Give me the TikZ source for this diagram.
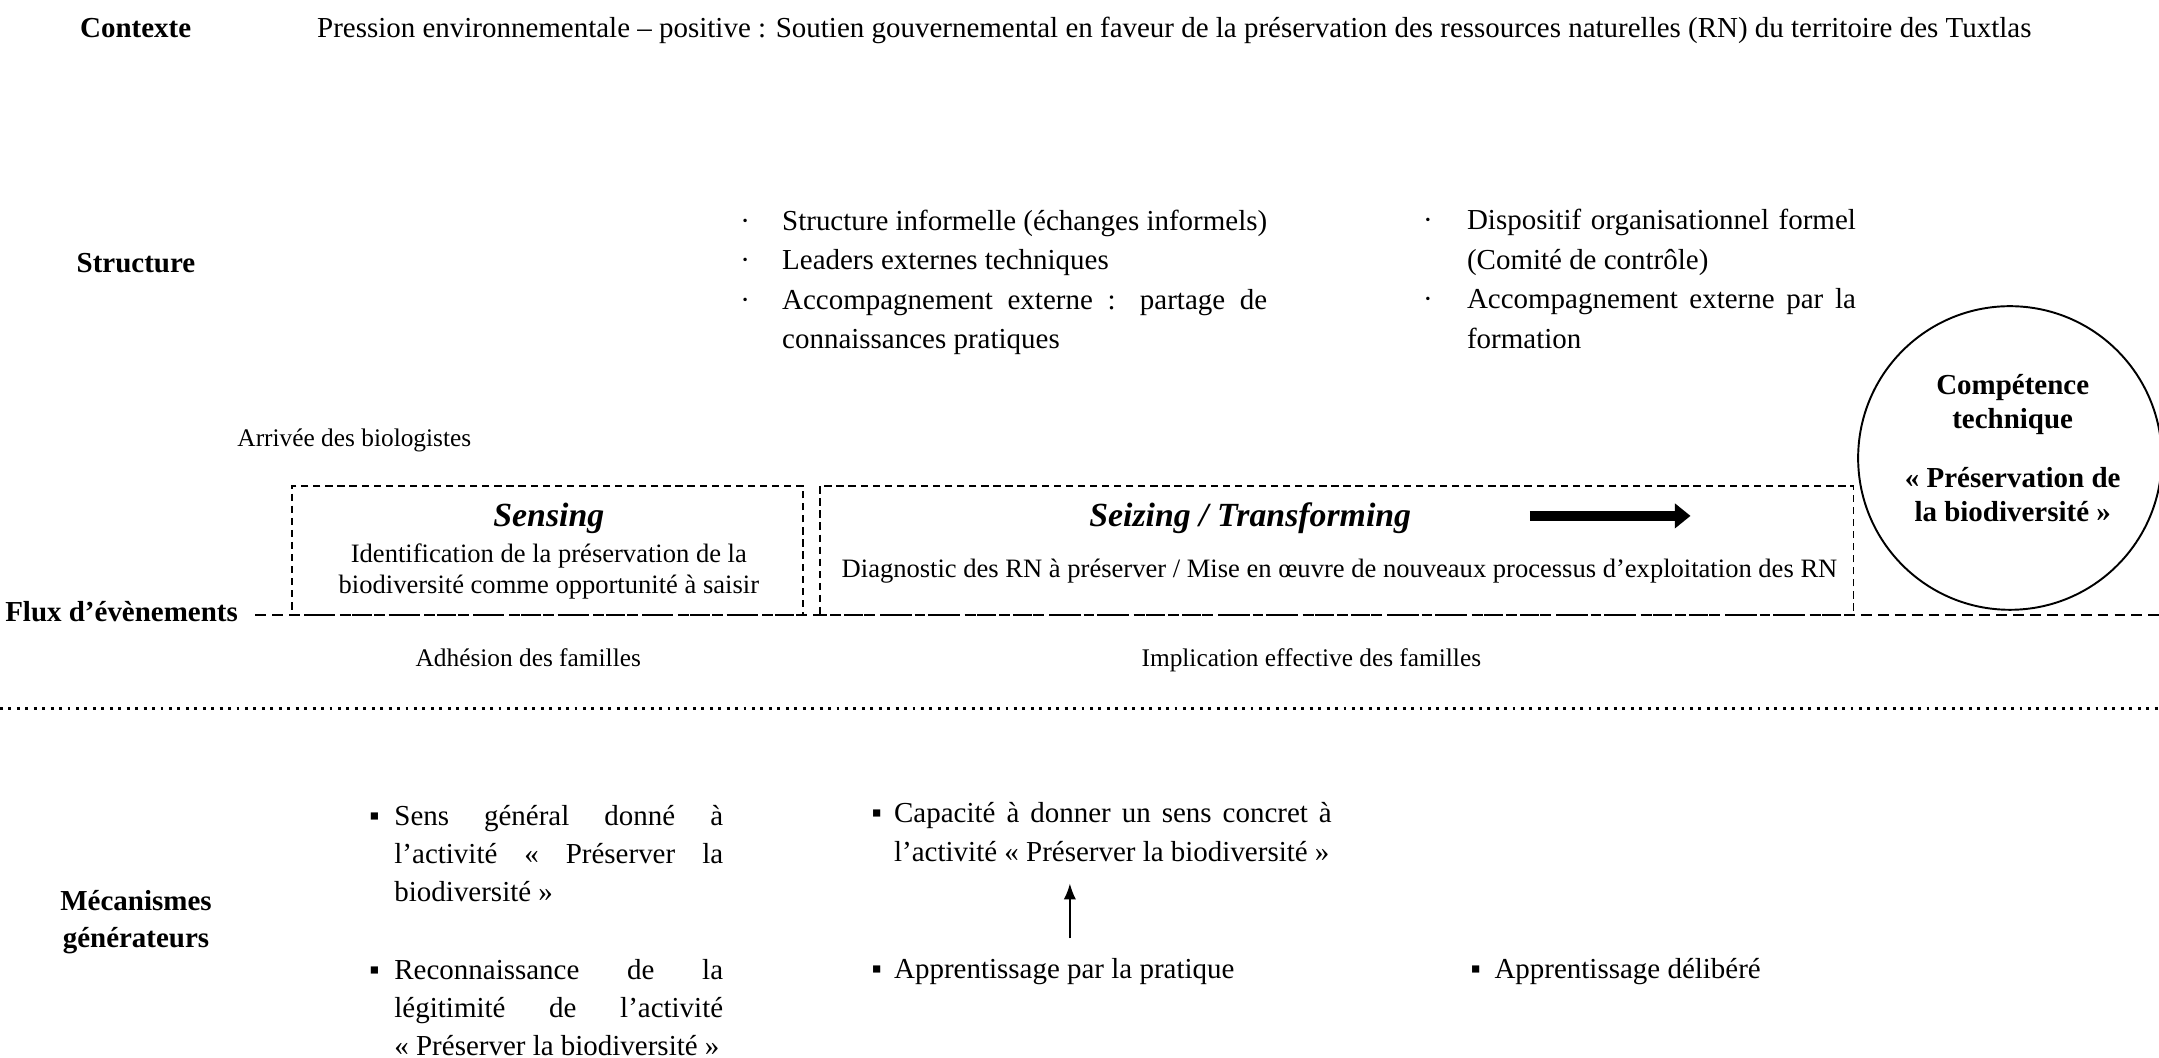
\documentclass[tikz,border=0pt]{standalone}
\usepackage{fontspec}
\setmainfont{Liberation Serif}
\usetikzlibrary{arrows.meta}

\newcommand{\puce}[3]{\hangindent=#2\hangafter=1\noindent\makebox[#2][l]{#1}#3\par}

\begin{document}
\begin{tikzpicture}[
    lbl/.style={font=\fontsize{12}{15.3}\selectfont\bfseries, inner sep=0pt},
    txt/.style={font=\fontsize{12}{14}\selectfont, inner sep=0pt},
    petit/.style={font=\fontsize{10.5}{12.8}\selectfont, inner sep=0pt},
    boite/.style={font=\fontsize{11}{12.8}\selectfont, inner sep=0pt},
    titre/.style={font=\fontsize{14}{16}\selectfont\bfseries\itshape, inner sep=0pt},
    liste/.style={font=\fontsize{12}{16.4}\selectfont, inner sep=0pt, align=justify, anchor=base west},
    bas/.style={liste, font=\fontsize{12}{15.8}\selectfont},
    cadre/.style={rectangle, draw, line width=0.6pt, dash pattern=on 3pt off 2pt, inner sep=0pt, minimum height=1.878cm}
]
    \useasboundingbox (0,0) rectangle (31.43,-15.40);

    % contexte et structure
    \node[lbl, anchor=base west] (contexte) at (1.16,-0.54) {Contexte};
    \node[txt, anchor=base west] (pression) at (4.61,-0.54) {Pression environnementale – positive~: Soutien gouvernemental en faveur de la préservation des ressources naturelles (RN) du territoire des Tuxtlas};

    \node[lbl, anchor=base west] (structure) at (1.11,-3.96) {Structure};
    \node[liste, text width=7.67cm] (structinf) at (10.77,-3.35) {%
        \puce{·}{0.61cm}{Structure informelle (échanges informels)}%
        \puce{·}{0.61cm}{Leaders externes techniques}%
        \puce{·}{0.61cm}{Accompagnement externe~: partage de\linebreak connaissances pratiques}};
    \node[liste, text width=6.3cm] (structform) at (20.71,-3.34) {%
        \puce{·}{0.64cm}{Dispositif organisationnel formel\linebreak (Comité de contrôle)}%
        \puce{·}{0.64cm}{Accompagnement externe par la\linebreak formation}};

    % flux d'evenements
    \node[petit, anchor=base west] (arrivee) at (3.45,-6.50) {Arrivée des biologistes};

    \node[cadre, minimum width=7.44cm] (sensbox) at (7.97,-8.013) {};
    \node[titre, anchor=base] (senstitre) at (7.99,-7.66) {Sensing};
    \node[boite, align=center] (senstxt) at (7.99,-8.32) {Identification de la préservation de la\\biodiversité comme opportunité à saisir};

    \node[cadre, minimum width=15.05cm] (seizbox) at (19.46,-8.013) {};
    \node[titre, anchor=base] (seiztitre) at (18.20,-7.66) {Seizing / Transforming};
    \node[boite, anchor=base] (diag) at (19.50,-8.40) {Diagnostic des RN à préserver / Mise en œuvre de nouveaux processus d’exploitation des RN};
    \coordinate (fdeb) at (22.27,-7.51);
    \coordinate (ffin) at (24.61,-7.51);
    \draw[line width=4pt, -{Triangle[length=6.5pt,width=10pt]}] (fdeb) -- (ffin);

    \node[circle, draw, line width=0.8pt, minimum size=4.42cm, inner sep=0pt] (competence) at (29.26,-6.667) {};
    \node[font=\fontsize{12}{14}\selectfont\bfseries, align=center, inner sep=0pt] (comptxt) at (29.30,-6.52) {Compétence\\technique\\[10.5pt]«~Préservation de\\la biodiversité~»};

    \node[lbl, anchor=base west] (flux) at (0.07,-9.05) {Flux d’évènements};
    \coordinate (fluxfin) at (31.43,-8.952);
    \draw[line width=0.6pt, dash pattern=on 4.5pt off 2.5pt] ([xshift=0.25cm]flux.east |- fluxfin) -- (fluxfin);

    \node[petit, anchor=base] (adhesion) at (7.69,-9.70) {Adhésion des familles};
    \node[petit, anchor=base] (implication) at (19.09,-9.70) {Implication effective des familles};

    \coordinate (sepg) at (0,-10.31);
    \coordinate (sepd) at (31.43,-10.31);
    \draw[line width=1.2pt, dash pattern=on 1.2pt off 2.3pt] (sepg) -- (sepd);

    % mecanismes generateurs
    \node[lbl, align=center] (meca) at (1.98,-13.43) {Mécanismes\\générateurs};
    \node[bas, text width=5.15cm] (sens) at (5.37,-12.01) {%
        \puce{▪}{0.365cm}{Sens général donné à\linebreak l’activité «~Préserver la\linebreak biodiversité~»}};
    \node[bas, text width=5.15cm] (legitimite) at (5.37,-14.26) {%
        \puce{▪}{0.365cm}{Reconnaissance de la\linebreak légitimité de l’activité\linebreak «~Préserver la biodiversité~»}};
    \node[bas, text width=6.7cm] (capacite) at (12.68,-11.98) {%
        \puce{▪}{0.33cm}{Capacité à donner un sens concret à\linebreak l’activité «~Préserver la biodiversité~»}};
    \node[bas, text width=6.7cm] (pratique) at (12.68,-14.24) {\puce{▪}{0.33cm}{Apprentissage par la pratique}};
    \node[bas, text width=5cm] (delibere) at (21.40,-14.24) {\puce{▪}{0.35cm}{Apprentissage délibéré}};

    \coordinate (flx) at (15.575,0);
    \draw[-{Latex[length=6.5pt,width=5pt]}, line width=0.6pt, shorten <=8pt, shorten >=9pt] (pratique.north -| flx) -- (capacite.south -| flx);
\end{tikzpicture}
\end{document}
